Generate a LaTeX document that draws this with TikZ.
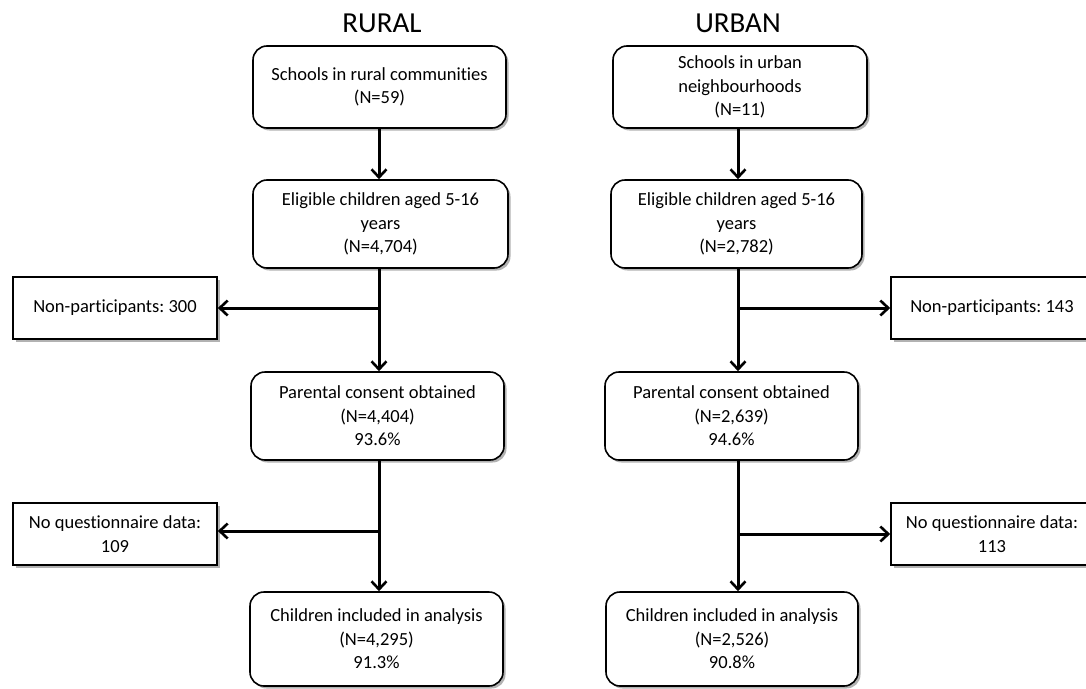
\documentclass[tikz,border=0pt]{standalone}
\usepackage{fontspec}
\setmainfont{Carlito}[Ligatures=NoCommon]
\usetikzlibrary{arrows.meta,shadows,calc}
\frenchspacing
\begin{document}
\begin{tikzpicture}[x=1pt,y=-1pt,
  shd/.style={drop shadow={shadow xshift=2.5pt, shadow yshift=-2.5pt, opacity=0.3, fill=black}},
  box/.style={draw, line width=1.6pt, rounded corners=14pt, fill=white, align=center, inner sep=0pt,
    font=\fontsize{18.5}{23.5}\selectfont, shd},
  side/.style={draw, line width=1.6pt, fill=white, align=center, inner sep=0pt,
    minimum width=204pt, minimum height=62pt, font=\fontsize{18.5}{23.5}\selectfont, shd},
  title/.style={font=\fontsize{29}{34}\selectfont},
  arr/.style={line width=3pt, -{Straight Barb[length=8pt, width=15pt, line width=2.6pt]}}
]
\useasboundingbox (0,0) rectangle (1086,688);
\clip (0,0) rectangle (1086,688);

% titles
\node[title] (tR) at (382,23) {RURAL};
\node[title] (tU) at (738,23) {URBAN};

% rural column
\node[box, minimum width=253pt, minimum height=82pt] (r1) at (379.5,87) {Schools in rural communities\\(N=59)};
\node[box, minimum width=255pt, minimum height=88pt] (r2) at (380.5,224) {Eligible children aged 5-16\\years\\(N=4,704)};
\node[box, minimum width=253pt, minimum height=88pt] (r3) at (377.5,416) {Parental consent obtained\\(N=4,404)\\93.6\%};
\node[box, minimum width=253pt, minimum height=94pt] (r4) at (376.5,639) {Children included in analysis\\(N=4,295)\\91.3\%};
\node[side] (rs1) at (115,308) {Non-participants: 300};
\node[side] (rs2) at (115,534) {No questionnaire data:\\109};

% urban column
\node[box, minimum width=254pt, minimum height=82pt] (u1) at (740,87) {Schools in urban\\neighbourhoods\\(N=11)};
\node[box, minimum width=251pt, minimum height=88pt] (u2) at (736.5,224) {Eligible children aged 5-16\\years\\(N=2,782)};
\node[box, minimum width=253pt, minimum height=88pt] (u3) at (731.5,416) {Parental consent obtained\\(N=2,639)\\94.6\%};
\node[box, minimum width=252pt, minimum height=94pt] (u4) at (732,639) {Children included in analysis\\(N=2,526)\\90.8\%};
\node[side, minimum width=202pt] (us1) at (992,308) {Non-participants: 143};
\node[side, minimum width=202pt] (us2) at (992,534) {No questionnaire data:\\113};

% column lines
\coordinate (rc) at (379,0);
\coordinate (uc) at (738,0);

% rural connectors
\draw[arr] (r1.south -| rc) -- (r2.north -| rc);
\draw[arr] (r2.south -| rc) -- (r3.north -| rc);
\draw[arr] (rs1.east -| rc) -- (rs1.east);
\draw[arr] (r3.south -| rc) -- (r4.north -| rc);
\draw[arr] ($(rs2.east -| rc)+(0,-3)$) -- ($(rs2.east)+(0,-3)$);

% urban connectors
\draw[arr] (u1.south -| uc) -- (u2.north -| uc);
\draw[arr] (u2.south -| uc) -- (u3.north -| uc);
\draw[arr] (us1.west -| uc) -- (us1.west);
\draw[arr] (u3.south -| uc) -- (u4.north -| uc);
\draw[arr] (us2.west -| uc) -- (us2.west);
\end{tikzpicture}
\end{document}
